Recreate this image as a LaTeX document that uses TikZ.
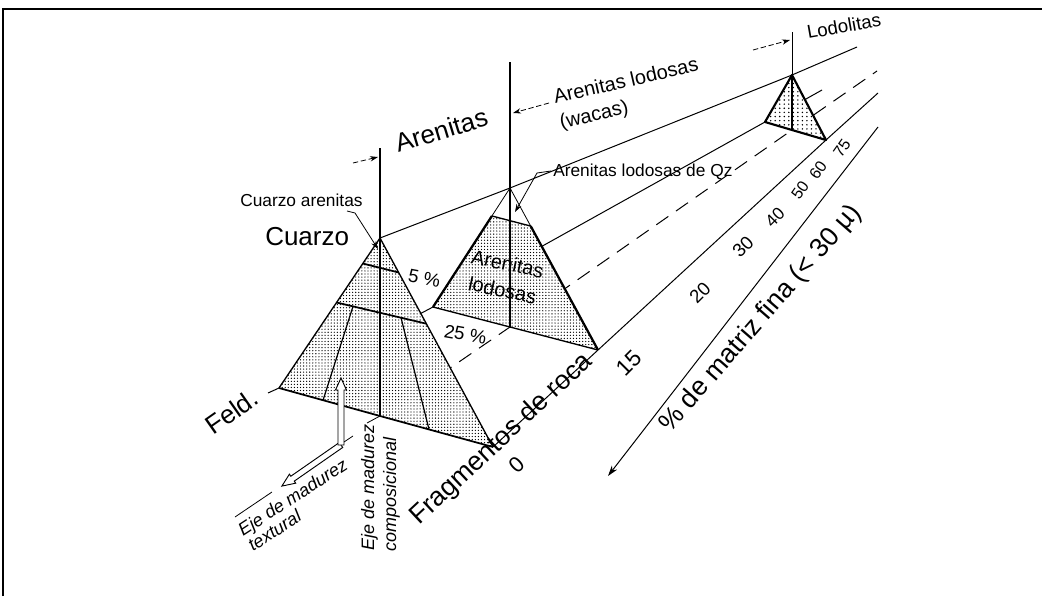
\documentclass[tikz,border=0pt]{standalone}
\usepackage{fontspec}
\setmainfont{Liberation Sans}
\usetikzlibrary{arrows.meta,patterns,calc}
\pgfdeclarepatternformonly{fdots}{\pgfqpoint{-0.7pt}{-0.7pt}}{\pgfqpoint{0.7pt}{0.7pt}}{\pgfqpoint{2.3pt}{2.3pt}}{\pgfpathcircle{\pgfqpoint{0pt}{0pt}}{0.5pt}\pgfusepath{fill}}
\pgfdeclarepatternformonly{cdots}{\pgfqpoint{-0.8pt}{-0.8pt}}{\pgfqpoint{0.8pt}{0.8pt}}{\pgfqpoint{3.4pt}{3.1pt}}{\pgfpathcircle{\pgfqpoint{0pt}{0pt}}{0.6pt}\pgfusepath{fill}}
\newcommand\fbig{\fontsize{19.5}{22}\selectfont}
\newcommand\fbigg{\fontsize{20}{23}\selectfont}
\newcommand\fmed{\fontsize{15}{18}\selectfont}
\newcommand\fnum{\fontsize{14}{17}\selectfont}
\newcommand\fsmall{\fontsize{13}{16}\selectfont}
\newcommand\fit{\fontsize{13.5}{16}\selectfont\itshape}
\begin{document}
\begin{tikzpicture}[x=0.75pt,y=-0.75pt,
  lbl/.style={inner sep=0pt},
  pline/.style={line width=0.75pt},
  dline/.style={line width=0.75pt,dash pattern=on 11pt off 7pt},
  leader/.style={line width=0.6pt,-{Stealth[length=6pt,width=4pt]}},
  dleader/.style={line width=0.6pt,dash pattern=on 4pt off 2pt,-{Stealth[length=6pt,width=4pt]}},
  hollow/.style={fill=white,draw=black,line width=0.7pt},
]
\useasboundingbox (0,0) rectangle (1042,596);
% frame
\coordinate (FrBL) at (3,596); \coordinate (FrTL) at (3,9); \coordinate (FrTR) at (1042,9);
\draw[line width=1.5pt] (FrBL) -- (FrTL) -- (FrTR);

% key points
\coordinate (A1) at (380,238); \coordinate (L1) at (279,388); \coordinate (R1) at (493,447);
\coordinate (B1) at (380,416); \coordinate (T1) at (380,148);
\coordinate (A2) at (510,188); \coordinate (L2) at (433,307); \coordinate (R2) at (598,350);
\coordinate (B2) at (510,327); \coordinate (T2) at (510,62);
\coordinate (A3) at (792,75); \coordinate (L3) at (765,122); \coordinate (R3) at (826,140);
\coordinate (B3) at (792,130); \coordinate (T3) at (792,32);
\coordinate (Aend) at (857,47); \coordinate (Fl) at (268,393); \coordinate (Fend) at (822,90);
\coordinate (Dend) at (877,71); \coordinate (Rend) at (878,93);
\coordinate (P1) at (878,127); \coordinate (P2) at (608,476);

% perspective lines (behind triangles)
\draw[pline] (A1) -- (A2) -- (A3) -- (Aend);
\draw[pline] (Fl) -- (L1) -- (L2) -- (L3) -- (Fend);
\draw[dline] (B1) -- (B2) -- (B3) -- (Dend);
\draw[pline] (R1) -- (R2) -- (R3) -- (Rend);
\draw[pline,-{Stealth[length=8pt,width=5pt]}] (P1) -- (P2);

% triangle 3 (Lodolitas)
\fill[white] (A3) -- (L3) -- (B3) -- (R3) -- cycle;
\fill[pattern=cdots] (A3) -- (L3) -- (B3) -- (R3) -- cycle;
\draw[line width=1.6pt,line join=round] (A3) -- (L3) -- (B3) -- (R3) -- cycle;
\draw[line width=0.75pt] (T3) -- (A3);
\draw[line width=1.2pt] (A3) -- (B3);

% triangle 2 (Arenitas lodosas)
\coordinate (Q2l) at ($(A2)!0.235!(L2)$);
\coordinate (Q2r) at ($(A2)!0.235!(R2)$);
\fill[white] (Q2l) -- (Q2r) -- (R2) -- (B2) -- (L2) -- cycle;
\fill[pattern=fdots] (Q2l) -- (Q2r) -- (R2) -- (B2) -- (L2) -- cycle;
\draw[line width=0.6pt] (Q2l) -- (A2) -- (Q2r);
\draw[line width=1pt] (Q2l) -- (Q2r);
\draw[line width=1pt] (L2) -- (B2) -- (R2);
\draw[line width=1.7pt] (Q2l) -- (L2);
\draw[line width=1.7pt] (Q2r) -- (R2);
\draw[line width=0.8pt] (T2) -- (B2);

% triangle 1 (Cuarzo)
\fill[white] (A1) -- (L1) -- (B1) -- (R1) -- cycle;
\fill[pattern=fdots] (A1) -- (L1) -- (B1) -- (R1) -- cycle;
\draw[line width=1pt] (L1) -- (A1) -- (R1);
\draw[line width=1.3pt] (L1) -- (B1) -- (R1);
\coordinate (F5l) at ($(A1)!0.17!(L1)$);
\coordinate (F5r) at ($(A1)!0.165!(R1)$);
\coordinate (F25l) at ($(A1)!0.43!(L1)$);
\coordinate (F25r) at ($(A1)!0.41!(R1)$);
\coordinate (In1t) at ($(F25l)!0.183!(F25r)$);
\coordinate (In2t) at ($(F25l)!0.718!(F25r)$);
\coordinate (In1b) at ($(L1)!0.206!(R1)$);
\coordinate (In2b) at ($(L1)!0.701!(R1)$);
\draw[line width=1.3pt] (F5l) -- (F5r);
\draw[line width=1.3pt] (F25l) -- (F25r);
\draw[line width=0.9pt] (In1t) -- (In1b);
\draw[line width=0.9pt] (In2t) -- (In2b);
\draw[line width=0.8pt] (T1) -- (A1);
\draw[line width=1.4pt] (A1) -- (B1);

% maturity axes (hollow arrows)
\coordinate (Hc) at (341,445);
\begin{scope}[shift={(Hc)},rotate=214.8]
\path[hollow] (0,-3) -- (59,-3) -- (59,-5.5) -- (72,0) -- (59,5.5) -- (59,3) -- (0,3) -- cycle;
\end{scope}
\begin{scope}[shift={(Hc)},rotate=90]
\path[hollow] (0,-3) -- (55,-3) -- (55,-5.5) -- (67,0) -- (55,5.5) -- (55,3) -- (0,3) -- cycle;
\end{scope}
\coordinate (Tx1) at (235,517); \coordinate (Tx2) at (272,492);
\coordinate (Tk1) at (344,442); \coordinate (Tk2) at (353,436);
\coordinate (Cp2) at (367,423);
\draw[line width=0.6pt] (Tx1) -- (Tx2);
\draw[line width=0.6pt] (Tk1) -- (Tk2);
\draw[line width=0.6pt] (B1) -- (Cp2);

% leaders
\coordinate (CAa) at (347,211); \coordinate (CAb) at (355,213); \coordinate (CAc) at (378,249);
\draw[leader] (CAa) -- (CAb) -- (CAc);
\coordinate (ARa) at (353,163); \coordinate (ARb) at (378,157);
\draw[dleader] (ARa) -- (ARb);
\coordinate (ALa) at (549,103); \coordinate (ALb) at (513,113);
\draw[dleader] (ALa) -- (ALb);
\coordinate (LOa) at (753,50); \coordinate (LOb) at (790,40);
\draw[dleader] (LOa) -- (LOb);
\coordinate (QZa) at (551,171); \coordinate (QZb) at (537,173); \coordinate (QZc) at (515,212);
\draw[leader] (QZa) -- (QZb) -- (QZc);

% labels
\node[lbl,font=\fsmall,anchor=base west] (tCA) at (240,206) {Cuarzo arenitas};
\node[lbl,font=\fbig,anchor=base west] (tCu) at (265,245) {Cuarzo};
\node[lbl,font=\fbig,anchor=base west,rotate=17] (tAr) at (398,153) {Arenitas};
\node[lbl,font=\fmed,anchor=base west,rotate=13] (tAL1) at (555,104) {Arenitas lodosas};
\node[lbl,font=\fmed,anchor=base west,rotate=13] (tAL2) at (561,129) {(wacas)};
\node[lbl,font=\fsmall,anchor=base west] (tQz) at (553,176) {Arenitas lodosas de Qz};
\node[lbl,font=\fnum,anchor=base west,rotate=10] (tLo) at (808,39) {Lodolitas};
\node[lbl,font=\fmed,anchor=base west,rotate=-12] (tIn1) at (470,263) {Arenitas};
\node[lbl,font=\fmed,anchor=base west,rotate=-12] (tIn2) at (467,290) {lodosas};
\node[lbl,font=\fnum,anchor=base west,rotate=-11] (t5) at (407,281) {5 \%};
\node[lbl,font=\fnum,anchor=base west,rotate=-10] (t25) at (443,337) {25 \%};
\node[lbl,font=\fbig,anchor=base west,rotate=35] (tFe) at (213,436) {Feld.};
\node[lbl,font=\fbigg,anchor=base west,rotate=43] (tFr) at (419,526) {Fragmentos de roca};
\node[lbl,font=\fontsize{16.5}{18}\selectfont,rotate=43] (n0) at (517,465) {0};
\node[lbl,font=\fontsize{17}{19}\selectfont,rotate=45] (n15) at (629,363) {15};
\node[lbl,font=\fontsize{14}{16}\selectfont,rotate=45] (n20) at (700,293) {20};
\node[lbl,font=\fontsize{14}{16}\selectfont,rotate=45] (n30) at (743,247) {30};
\node[lbl,font=\fontsize{13}{15}\selectfont,rotate=45] (n40) at (775,217) {40};
\node[lbl,font=\fontsize{12}{14}\selectfont,rotate=55] (n50) at (800,190) {50};
\node[lbl,font=\fontsize{12}{14}\selectfont,rotate=55] (n60) at (818,170) {60};
\node[lbl,font=\fontsize{12}{14}\selectfont,rotate=55] (n75) at (842,148) {75};
\node[lbl,font=\fbigg,rotate=49] (tMa) at (761,319) {\% de matriz fina (< 30 µ)};
\node[lbl,font=\fit,anchor=base west,rotate=33] (tEt1) at (243,537) {Eje de madurez};
\node[lbl,font=\fit,anchor=base west,rotate=33] (tEt2) at (253,552) {textural};
\node[lbl,font=\fit,anchor=base west,rotate=90] (tEc1) at (374,551) {Eje de madurez};
\node[lbl,font=\fit,anchor=base west,rotate=90] (tEc2) at (396,552) {composicional};
\end{tikzpicture}
\end{document}
